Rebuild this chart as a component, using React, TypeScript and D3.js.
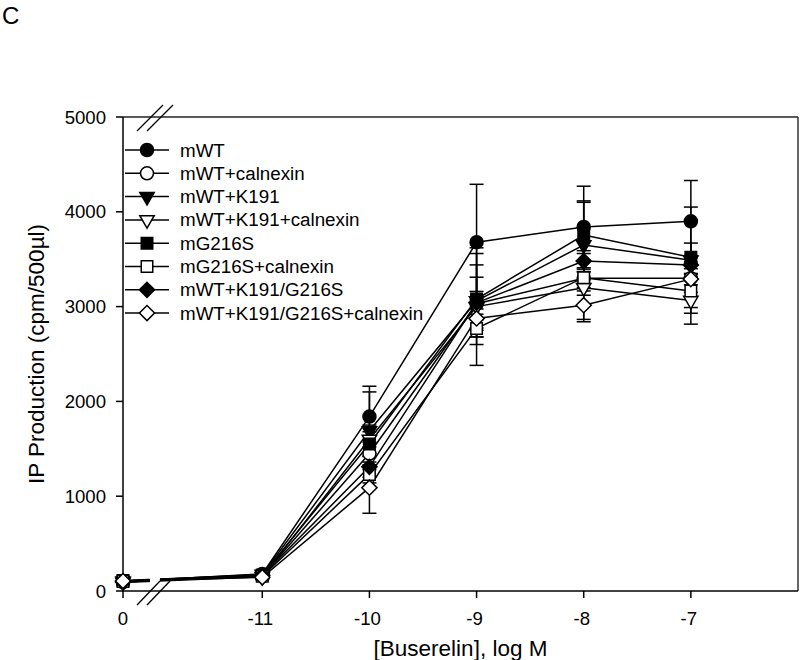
import React from "react";
import * as d3 from "d3";

// x categories (log M); "0" is the control dose drawn left of the axis break
const xLabels = ["0", "-11", "-10", "-9", "-8", "-7"];
const xPositions = [-12.3, -11, -10, -9, -8, -7];
const yTicks = [0, 1000, 2000, 3000, 4000, 5000];

const seriesNames = [
  "mWT",
  "mWT+calnexin",
  "mWT+K191",
  "mWT+K191+calnexin",
  "mG216S",
  "mG216S+calnexin",
  "mWT+K191/G216S",
  "mWT+K191/G216S+calnexin",
];
const seriesSymbols = ["circle", "circle", "triDown", "triDown", "square", "square", "diamond", "diamond"];
const seriesFilled = [true, false, true, false, true, false, true, false];

const mWT = [100, 180, 1840, 3680, 3840, 3900];
const mWTcal = [95, 160, 1450, 3030, 3300, 3300];
const mWTK191 = [105, 175, 1690, 3060, 3650, 3490];
const mWTK191cal = [90, 150, 1600, 3000, 3200, 3065];
const mG216S = [110, 170, 1550, 3080, 3755, 3520];
const mG216Scal = [100, 155, 1230, 2770, 3305, 3165];
const mKG = [95, 165, 1310, 3040, 3480, 3440];
const mKGcal = [105, 145, 1090, 2875, 3015, 3290];

const errWT = [20, 30, 320, 610, 430, 430];
const errWTcal = [15, 25, 120, 280, 180, 150];
const errK191 = [20, 30, 410, 380, 450, 180];
const errK191cal = [15, 25, 150, 620, 360, 250];
const errG216S = [20, 30, 130, 480, 360, 530];
const errG216Scal = [15, 25, 90, 90, 60, 235];
const errKG = [20, 25, 110, 120, 110, 100];
const errKGcal = [15, 25, 270, 100, 150, 60];

const seriesValues = [mWT, mWTcal, mWTK191, mWTK191cal, mG216S, mG216Scal, mKG, mKGcal];
const seriesErrors = [errWT, errWTcal, errK191, errK191cal, errG216S, errG216Scal, errKG, errKGcal];

// axis break (data units) on x
const breakStart = -12.05;
const breakEnd = -11.955;

const W = 800;
const H = 660;
const left = 123;
const right = 798;
const top = 117;
const bottom = 591;

const x = d3.scaleLinear().domain([-12.3, -6]).range([left, right]);
const y = d3.scaleLinear().domain([0, 5000]).range([bottom, top]);

const FONT = "'Liberation Sans', Arial, sans-serif";

function symbolPath(kind: string): { d: string; rotate: number } {
  if (kind === "circle") return { d: d3.symbol(d3.symbolCircle, 133)() as string, rotate: 0 };
  if (kind === "square") return { d: d3.symbol(d3.symbolSquare, 132)() as string, rotate: 0 };
  if (kind === "triDown") return { d: d3.symbol(d3.symbolTriangle, 90)() as string, rotate: 180 };
  return { d: d3.symbol(d3.symbolSquare, 115)() as string, rotate: 45 };
}

function Marker({ cx, cy, i }: { cx: number; cy: number; i: number }) {
  const s = symbolPath(seriesSymbols[i]);
  return (
    <path
      d={s.d}
      transform={`translate(${cx},${cy}) rotate(${s.rotate})`}
      fill={seriesFilled[i] ? "#000" : "#fff"}
      stroke="#000"
      strokeWidth={1.5}
    />
  );
}

export default function App() {
  const line = d3
    .line<number>()
    .x((_, j) => x(xPositions[j]))
    .y((v) => y(v));
  const cap = 7;
  const legendX = 147;
  const legendY0 = 150;
  const legendDy = 23.3;

  return (
    <svg
      width={W}
      height={H}
      style={{ position: "absolute", left: 0, top: 0, background: "#fff" }}
      fontFamily={FONT}
    >
      <defs>
        <clipPath id="brk">
          <rect x={0} y={0} width={x(breakStart)} height={H} />
          <rect x={x(breakEnd)} y={0} width={W - x(breakEnd)} height={H} />
        </clipPath>
      </defs>

      <text x={2} y={24} fontSize={24}>C</text>

      {/* frame */}
      <line x1={left} x2={right} y1={top} y2={top} stroke="#222" strokeWidth={1.5} />
      <line x1={right} x2={right} y1={top} y2={bottom} stroke="#333" strokeWidth={1.5} />
      <line x1={left} x2={left} y1={top} y2={bottom} stroke="#000" strokeWidth={1.5} />
      <line x1={left} x2={right} y1={bottom} y2={bottom} stroke="#000" strokeWidth={1.5} />

      {/* y ticks */}
      {yTicks.map((t) => (
        <g key={t}>
          <line x1={left - 7} x2={left} y1={y(t)} y2={y(t)} stroke="#000" strokeWidth={1.5} />
          <text x={left - 17} y={y(t) + 6.5} fontSize={18.6} textAnchor="end">{t}</text>
        </g>
      ))}
      {/* x ticks */}
      {xPositions.map((p, j) => (
        <g key={j}>
          <line x1={x(p)} x2={x(p)} y1={bottom} y2={bottom + 7} stroke="#000" strokeWidth={1.5} />
          <text x={x(p) + (j === 0 ? 0 : -2)} y={625} fontSize={18.6} textAnchor="middle">{xLabels[j]}</text>
        </g>
      ))}

      {/* break marks */}
      {[0, 10].map((o) => (
        <g key={o}>
          <line x1={137 + o} y1={131} x2={163 + o} y2={105} stroke="#000" strokeWidth={1.3} />
          <line x1={137 + o} y1={605} x2={160 + o} y2={581} stroke="#000" strokeWidth={1.3} />
        </g>
      ))}

      {/* axis titles */}
      <text x={(left + right) / 2} y={656} fontSize={22.5} textAnchor="middle">[Buserelin], log M</text>
      <text
        transform={`translate(44,${354}) rotate(-90)`}
        fontSize={22.5}
        textAnchor="middle"
      >
        IP Production (cpm/500µl)
      </text>

      {/* lines */}
      <g clipPath="url(#brk)">
        {seriesValues.map((vals, i) => (
          <path key={i} d={line(vals) as string} fill="none" stroke="#000" strokeWidth={1.5} />
        ))}
      </g>

      {/* error bars */}
      {seriesValues.map((vals, i) =>
        vals.map((v, j) => {
          const e = seriesErrors[i][j];
          const cx = x(xPositions[j]);
          const y1 = y(v + e);
          const y0 = y(v - e);
          return (
            <g key={`${i}-${j}`} stroke="#000" strokeWidth={1.5}>
              <line x1={cx} x2={cx} y1={y1} y2={y0} />
              <line x1={cx - cap} x2={cx + cap} y1={y1} y2={y1} />
              <line x1={cx - cap} x2={cx + cap} y1={y0} y2={y0} />
            </g>
          );
        })
      )}

      {/* markers */}
      {seriesValues.map((vals, i) =>
        vals.map((v, j) => <Marker key={`m${i}-${j}`} cx={x(xPositions[j])} cy={y(v)} i={i} />)
      )}

      {/* legend */}
      {seriesNames.map((name, i) => {
        const ly = legendY0 + i * legendDy;
        return (
          <g key={name}>
            <line x1={125} x2={169} y1={ly} y2={ly} stroke="#000" strokeWidth={1.5} />
            <Marker cx={legendX} cy={ly} i={i} />
            <text x={180} y={ly + 6.5} fontSize={18.8}>{name}</text>
          </g>
        );
      })}
    </svg>
  );
}
